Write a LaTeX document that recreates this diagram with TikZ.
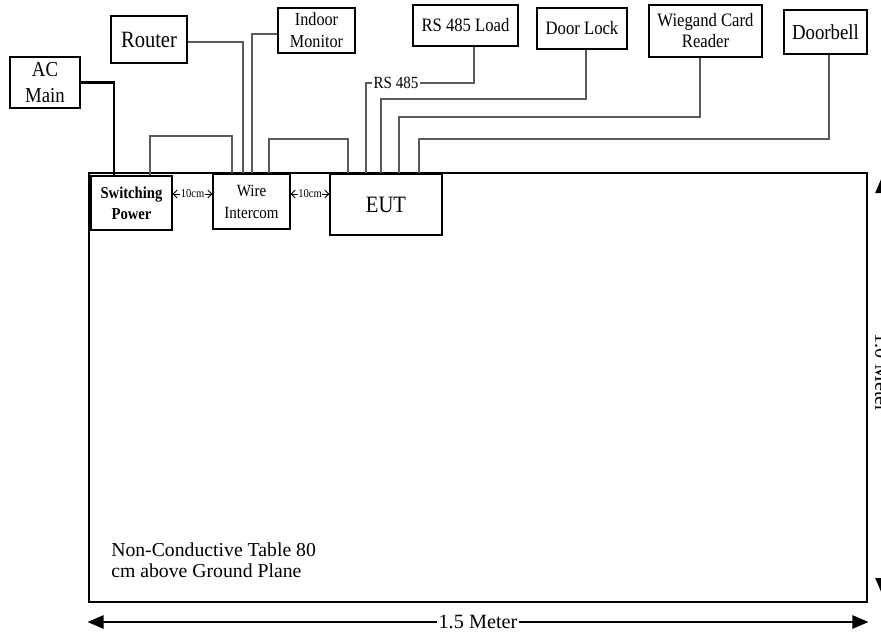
\documentclass[tikz,border=0pt]{standalone}
\usepackage{fontspec}
\setmainfont{Liberation Serif}
\newfontfamily\narrowfont[FakeStretch=0.88]{Liberation Serif}
\usetikzlibrary{arrows.meta}
\definecolor{cablegray}{RGB}{90,90,90}
\newcommand{\px}{0.75pt}
\newcommand{\fsz}[2]{\fontsize{#1}{#2}\selectfont}
\tikzset{
  box/.style={draw, line width=1pt, fill=white, inner sep=0pt, align=center},
  cable/.style={draw=cablegray, line width=0.9pt},
  mains/.style={draw=black, line width=2.2pt},
  gap/.style={{Straight Barb[length=3pt,width=6pt]}-{Straight Barb[length=3pt,width=6pt]}, line width=0.6pt},
  meas/.style={{Triangle[length=12pt,width=10pt]}-{Triangle[length=12pt,width=10pt]}, line width=1.1pt},
}
\begin{document}
\begin{tikzpicture}[x=\px, y=-\px]
  \useasboundingbox (0,0) rectangle (881,633);
  \clip (0,0) rectangle (881,633);
  % Table
  \node[draw, line width=2.2pt, inner sep=0pt, minimum width=778*\px, minimum height=429*\px] (table) at (478,387.5) {};
  \node[anchor=north west, align=left, inner sep=0pt, font={\fsz{14.8pt}{15.2pt}}] (tablelbl) at (111,543) {Non-Conductive Table 80\\cm above Ground Plane};
  % Peripherals
  \node[box, minimum width=70*\px, minimum height=51*\px, font={\narrowfont\fsz{16pt}{20pt}}] (acmain) at (45,82.5) {AC\\Main};
  \node[box, minimum width=76*\px, minimum height=47*\px, font={\narrowfont\fsz{17.5pt}{18pt}}] (router) at (149,39.5) {Router};
  \node[box, minimum width=77*\px, minimum height=45*\px, font={\narrowfont\fsz{13.8pt}{16.5pt}}] (indoor) at (316.5,30.5) {Indoor\\Monitor};
  \node[box, minimum width=105*\px, minimum height=41*\px, font={\narrowfont\fsz{14.2pt}{15pt}}] (rsload) at (465.5,25.5) {RS 485 Load};
  \node[box, minimum width=90*\px, minimum height=41*\px, font={\narrowfont\fsz{14.2pt}{15pt}}] (doorlock) at (582,28.5) {Door Lock};
  \node[box, minimum width=113*\px, minimum height=52*\px, font={\narrowfont\fsz{14.2pt}{15.75pt}}] (wiegand) at (705.5,31) {Wiegand Card\\Reader};
  \node[box, minimum width=83*\px, minimum height=44*\px, font={\narrowfont\fsz{16pt}{17pt}}] (doorbell) at (825.5,32) {Doorbell};
  % Units on the table
  \node[box, minimum width=81*\px, minimum height=54*\px, font={\narrowfont\fsz{12.5pt}{15.75pt}\bfseries}] (switching) at (131.5,203) {Switching\\Power};
  \node[box, minimum width=77*\px, minimum height=55*\px, font={\narrowfont\fsz{12.8pt}{16.5pt}}] (wire) at (251.5,201.5) {Wire\\Intercom};
  \node[box, minimum width=112*\px, minimum height=61*\px, font={\narrowfont\fsz{17.6pt}{18pt}}] (eut) at (386,204.5) {EUT};
  % Mains feed
  \coordinate (pwA) at (114,82.5);
  \draw[mains] (acmain.east) -- (pwA) -- (pwA |- switching.north);
  % Cables to the wire intercom
  \coordinate (swA) at (150,136);
  \coordinate (swB) at (232,136);
  \draw[cable] (swA |- switching.north) -- (swA) -- (swB) -- (swB |- wire.north);
  \coordinate (rtA) at (243,42);
  \draw[cable] (router.east |- rtA) -- (rtA) -- (rtA |- wire.north);
  \coordinate (inA) at (252,34);
  \draw[cable] (indoor.west |- inA) -- (inA) -- (inA |- wire.north);
  % Cables to the EUT
  \coordinate (weA) at (269,139);
  \coordinate (weB) at (348,139);
  \draw[cable] (weA |- wire.north) -- (weA) -- (weB) -- (weB |- eut.north);
  \coordinate (rsT) at (474,83);
  \coordinate (rsA) at (366,83);
  \draw[cable] (rsT |- rsload.south) -- (rsT) -- (rsA) -- (rsA |- eut.north);
  \node[fill=white, inner sep=1pt, font={\narrowfont\fsz{12.8pt}{13pt}}] (lbl485) at (396,83) {RS 485};
  \coordinate (dlT) at (586,99);
  \coordinate (dlA) at (381,99);
  \draw[cable] (dlT |- doorlock.south) -- (dlT) -- (dlA) -- (dlA |- eut.north);
  \coordinate (wgT) at (700,117);
  \coordinate (wgA) at (399,117);
  \draw[cable] (wgT |- wiegand.south) -- (wgT) -- (wgA) -- (wgA |- eut.north);
  \coordinate (dbT) at (829,139);
  \coordinate (dbA) at (419,139);
  \draw[cable] (dbT |- doorbell.south) -- (dbT) -- (dbA) -- (dbA |- eut.north);
  % Spacing arrows
  \coordinate (yGap) at (0,194);
  \draw[gap] (switching.east |- yGap) -- node[fill=white, inner sep=0.5pt, font={\narrowfont\fsz{9pt}{9pt}}] (gapA) {10cm} (wire.west |- yGap);
  \draw[gap] (wire.east |- yGap) -- node[fill=white, inner sep=0.5pt, font={\narrowfont\fsz{9pt}{9pt}}] (gapB) {10cm} (eut.west |- yGap);
  % Table size
  \coordinate (yM) at (0,622);
  \draw[meas] (table.south west |- yM) -- node[fill=white, inner sep=1pt, font={\fsz{15.2pt}{17pt}}] (lenlbl) {1.5 Meter} (table.south east |- yM);
  \coordinate (rTop) at (882,177);
  \coordinate (rBot) at (882,594);
  \draw[meas] (rTop) -- node[pos=0.47, fill=white, inner sep=1pt, rotate=-90, font={\fsz{15.2pt}{17pt}}] (widlbl) {1.0 Meter} (rBot);
\end{tikzpicture}
\end{document}
